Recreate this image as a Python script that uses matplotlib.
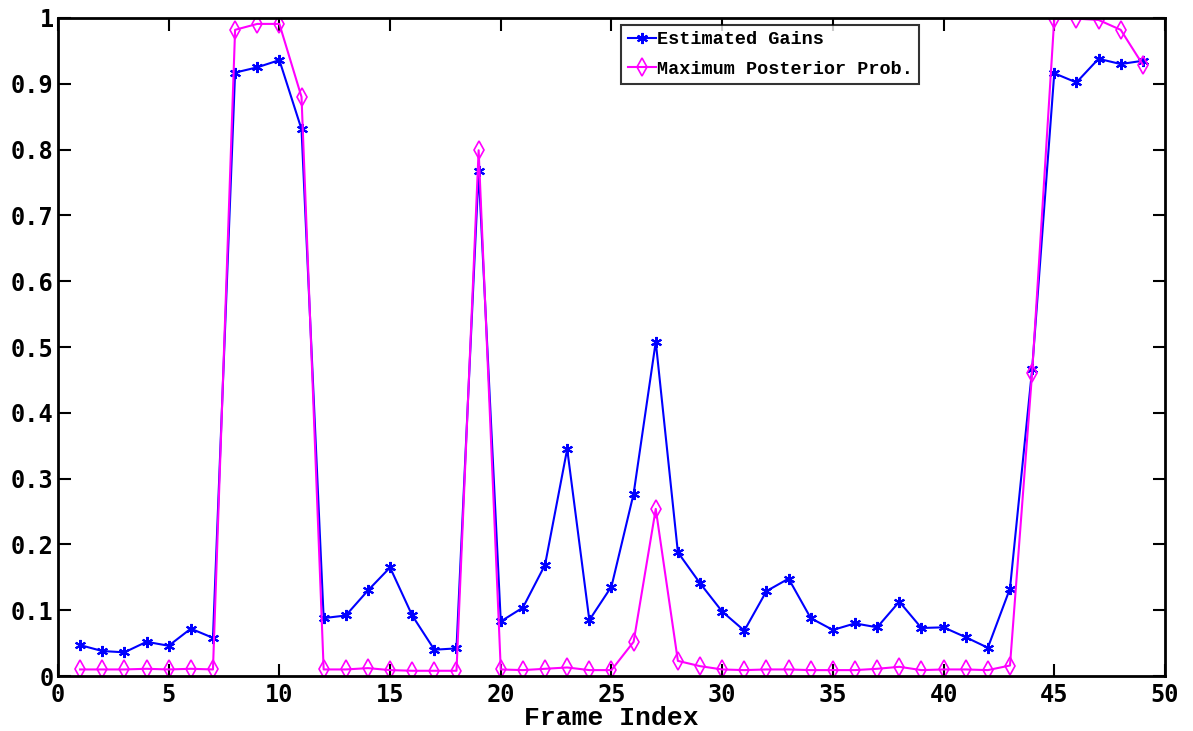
import numpy as np
import matplotlib
matplotlib.use("Agg")
import matplotlib.pyplot as plt

frames = list(range(1, 50))
est_gains = [0.047, 0.038, 0.036, 0.052, 0.046, 0.072, 0.058, 0.917, 0.925, 0.936,
             0.831, 0.088, 0.092, 0.130, 0.165, 0.092, 0.040, 0.042, 0.768, 0.083,
             0.104, 0.169, 0.345, 0.085, 0.136, 0.277, 0.508, 0.188, 0.141, 0.098,
             0.069, 0.129, 0.148, 0.088, 0.070, 0.080, 0.074, 0.113, 0.073, 0.074,
             0.059, 0.043, 0.133, 0.466, 0.916, 0.902, 0.938, 0.930, 0.935]
max_post = [0.010, 0.010, 0.010, 0.011, 0.010, 0.011, 0.010, 0.982, 0.991, 0.991,
            0.880, 0.010, 0.010, 0.012, 0.009, 0.008, 0.008, 0.008, 0.799, 0.010,
            0.009, 0.011, 0.013, 0.009, 0.009, 0.052, 0.254, 0.023, 0.015, 0.010,
            0.009, 0.010, 0.010, 0.009, 0.009, 0.009, 0.011, 0.014, 0.009, 0.010,
            0.010, 0.009, 0.016, 0.461, 0.999, 0.999, 0.997, 0.982, 0.929]

yticks = [0, 0.1, 0.2, 0.3, 0.4, 0.5, 0.6, 0.7, 0.8, 0.9, 1]
ytick_labels = ["0", "0.1", "0.2", "0.3", "0.4", "0.5", "0.6", "0.7", "0.8", "0.9", "1"]
xticks = [0, 5, 10, 15, 20, 25, 30, 35, 40, 45, 50]

fig = plt.figure(figsize=(11.93, 7.31), dpi=100)
ax = fig.add_axes([0.0486, 0.0752, 0.9279, 0.9002])

ax.plot(frames, est_gains, color="#0000ff", lw=1.5, marker=(6, 2, 0), ms=8,
        mew=1.5, label="Estimated Gains")
ax.plot(frames, max_post, color="#ff00ff", lw=1.5, marker="d", ms=9,
        mfc="none", mew=1.2, label="Maximum Posterior Prob.")

ax.set_xlim(0, 50)
ax.set_ylim(0, 1)
ax.set_xticks(xticks)
ax.set_yticks(yticks)
ax.set_yticklabels(ytick_labels)
ax.tick_params(direction="in", top=True, right=True, length=9, width=1.5,
               labelsize=17)
ax.tick_params(axis="y", pad=3)
ax.tick_params(axis="x", pad=5)
for lbl in ax.get_xticklabels() + ax.get_yticklabels():
    lbl.set_fontweight("bold")
    lbl.set_family("DejaVu Sans Mono")
for s in ax.spines.values():
    s.set_linewidth(2)

ax.set_xlabel("Frame Index", family="Liberation Mono", fontweight="bold",
              fontsize=19, labelpad=-1)

leg = ax.legend(loc="upper left", bbox_to_anchor=(0.509, 0.99),
                prop={"family": "Liberation Mono", "weight": "bold", "size": 13.3},
                frameon=True, fancybox=False, edgecolor="black",
                handlelength=1.5, handletextpad=0.05, borderpad=0.35,
                labelspacing=0.7, borderaxespad=0)
leg.get_frame().set_linewidth(1.5)

fig.savefig("out.png", dpi=100)
